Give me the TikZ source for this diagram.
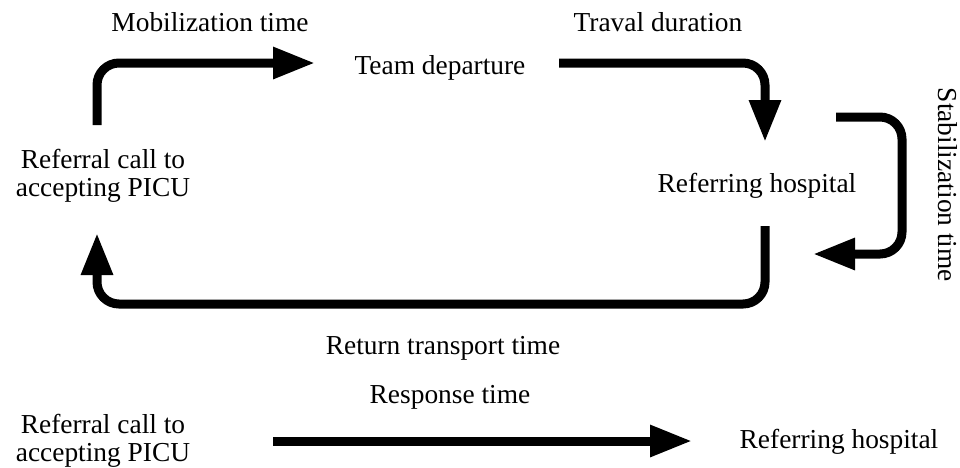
\documentclass[tikz,border=0pt]{standalone}
\usepackage{fontspec}
\setmainfont{Liberation Serif}
\usetikzlibrary{positioning, arrows.meta}

\begin{document}
\begin{tikzpicture}[x=0.5pt, y=-0.5pt]
        % Style des noeuds
        \tikzstyle{label} = [inner sep=0pt, text centered, align=center, font=\fontsize{13.7pt}{13.7pt}\selectfont]
        \tikzstyle{arrow} = [line width=4.5pt, rounded corners=11pt, -{Triangle[length=21pt, width=15pt]}]

        \useasboundingbox (0,0) rectangle (960,467);

        % Cycle
        \node (mobilisation) [label] at (210,22) {Mobilization time};
        \node (depart) [label] at (440,68) {Team departure};
        \node (trajet) [label] at (658,22) {Traval duration};
        \node (appel) [label] at (103,176) {Referral call to\\accepting PICU};
        \node (hopital) [label] at (757,186) {Referring hospital};
        \node (stabilisation) [label, rotate=-90] at (948,185) {Stabilization time};
        \node (retour) [label] at (443,348) {Return transport time};

        % Temps de réponse
        \node (reponse) [label] at (450,397) {Response time};
        \node (appel2) [label] at (103,441) {Referral call to\\accepting PICU};
        \node (hopital2) [label] at (839,442) {Referring hospital};

        % Extrémités des flèches
        \coordinate (mob-s) at (97,125);
        \coordinate (mob-e) at (315,63);
        \coordinate (traj-s) at (559,63);
        \coordinate (traj-e) at (765,142);
        \coordinate (stab-s) at (836,117);
        \coordinate (stab-c) at (902,254);
        \coordinate (stab-e) at (813,254);
        \coordinate (ret-s) at (765,226);
        \coordinate (ret-c) at (97,304);
        \coordinate (ret-e) at (97,233);
        \coordinate (rep-s) at (273,441);
        \coordinate (rep-e) at (692,441);

        % Flèches
        \draw [arrow] (mob-s) |- (mob-e);
        \draw [arrow] (traj-s) -| (traj-e);
        \draw [arrow] (stab-s) -| (stab-c) -- (stab-e);
        \draw [arrow] (ret-s) |- (ret-c) -- (ret-e);
        \draw [arrow] (rep-s) -- (rep-e);
    \end{tikzpicture}
\end{document}
